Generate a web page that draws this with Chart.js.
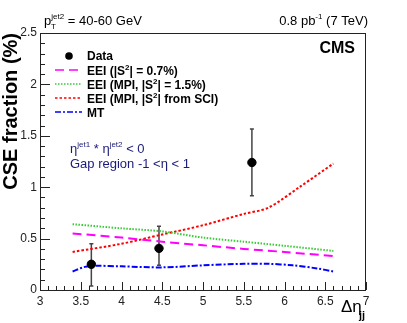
<!DOCTYPE html>
<html><head><meta charset="utf-8">
<script src="https://cdn.jsdelivr.net/npm/chart.js@4.4.0/dist/chart.umd.min.js"></script>
<style>html,body{margin:0;padding:0;background:#fff}#wrap{width:407px;height:323px}</style>
</head><body><div id="wrap"><canvas id="c" width="407" height="323"></canvas></div>
<script>
// ---- data ----
const dataX = [3.63, 4.46, 5.60];
const dataY = [0.25, 0.405, 1.24];
const dataErrLow = [0.04, 0.24, 0.917];
const dataErrHigh = [0.45, 0.62, 1.566];

const eei07X = [3.4, 4.0, 4.5, 5.0, 5.5, 6.0, 6.6];
const eei07Y = [0.55, 0.51, 0.47, 0.435, 0.40, 0.37, 0.33];

const eei15X = [3.4, 4.0, 4.5, 5.0, 5.5, 6.0, 6.6];
const eei15Y = [0.64, 0.60, 0.57, 0.51, 0.47, 0.43, 0.38];

const eeiSciX = [3.4, 4.0, 4.5, 5.0, 5.5, 5.8, 6.2, 6.6];
const eeiSciY = [0.37, 0.45, 0.54, 0.63, 0.74, 0.80, 1.01, 1.23];

const mtX = [3.4, 3.55, 3.7, 4.0, 4.5, 5.0, 5.5, 5.8, 6.1, 6.4, 6.6];
const mtY = [0.18, 0.225, 0.235, 0.23, 0.22, 0.24, 0.255, 0.255, 0.24, 0.21, 0.18];

const xTickLabels = ['3','3.5','4','4.5','5','5.5','6','6.5','7'];
const yTickLabels = ['0','0.5','1','1.5','2','2.5'];

const legendLabels = ['Data', 'EEI (|S', 'EEI (MPI, |S', 'EEI (MPI, |S', 'MT'];

const FONT = '"Liberation Sans", Arial, Helvetica, sans-serif';
const pts = (xs, ys) => xs.map((x, i) => ({x: x, y: ys[i]}));

const styles = {
  eei07: {color: '#ff00ff', dash: [9, 5], width: 2},
  eei15: {color: '#33cc33', dash: [1.5, 1.5], width: 2},
  sci: {color: '#ff0000', dash: [2.5, 2], width: 2},
  mt: {color: '#0000ff', dash: [6, 2, 2, 2], width: 2}
};

function sup(ctx, base, supText, x, y, size, bold) {
  ctx.font = (bold ? 'bold ' : '') + size + 'px ' + FONT;
  ctx.fillText(base, x, y);
  let w = ctx.measureText(base).width;
  ctx.font = (bold ? 'bold ' : '') + Math.round(size * 0.65) + 'px ' + FONT;
  ctx.fillText(supText, x + w, y - size * 0.45);
  return x + w + ctx.measureText(supText).width;
}

const decor = {
  id: 'decor',
  beforeDatasetsDraw(chart) {
    const ctx = chart.ctx, xs = chart.scales.x, ys = chart.scales.y;
    ctx.save();
    ctx.strokeStyle = '#444';
    ctx.lineWidth = 1.5;
    for (let i = 0; i < dataX.length; i++) {
      const px = xs.getPixelForValue(dataX[i]);
      const p1 = ys.getPixelForValue(dataErrLow[i]);
      const p2 = ys.getPixelForValue(dataErrHigh[i]);
      ctx.beginPath();
      ctx.moveTo(px, p1); ctx.lineTo(px, p2);
      ctx.moveTo(px - 2, p1); ctx.lineTo(px + 2, p1);
      ctx.moveTo(px - 2, p2); ctx.lineTo(px + 2, p2);
      ctx.stroke();
    }
    ctx.restore();
  },
  afterDraw(chart) {
    const ctx = chart.ctx, xs = chart.scales.x, ys = chart.scales.y;
    const a = chart.chartArea;
    ctx.save();
    // frame
    ctx.strokeStyle = '#222';
    ctx.lineWidth = 1;
    ctx.strokeRect(Math.round(a.left) + 0.5, Math.round(a.top) + 0.5, Math.round(a.right - a.left) - 1, Math.round(a.bottom - a.top));
    // ticks inside
    ctx.beginPath();
    for (let k = 0; k <= 25; k++) {
      const v = k / 10;
      const py = Math.round(ys.getPixelForValue(v)) + 0.5;
      const len = (k % 5 === 0) ? 10 : 5;
      ctx.moveTo(a.left, py); ctx.lineTo(a.left + len, py);
    }
    for (let k = 0; k <= 40; k++) {
      const v = 3 + k / 10;
      const px = Math.round(xs.getPixelForValue(v)) + 0.5;
      const len = (k % 5 === 0) ? 8 : 4;
      ctx.moveTo(px, a.bottom); ctx.lineTo(px, a.bottom - len);
    }
    ctx.stroke();

    // top texts
    ctx.fillStyle = '#000';
    ctx.textBaseline = 'alphabetic';
    ctx.textAlign = 'left';
    let x = sup(ctx, 'p', 'jet2', 44, 25, 13, false);
    ctx.font = '8px ' + FONT;
    ctx.fillText('T', 51, 29);
    ctx.font = '13px ' + FONT;
    ctx.fillText(' = 40-60 GeV', x, 25);

    ctx.font = '13px ' + FONT;
    const t1 = '0.8 pb', t2 = '-1', t3 = ' (7 TeV)';
    const w1 = ctx.measureText(t1).width, w3 = ctx.measureText(t3).width;
    ctx.font = '8px ' + FONT;
    const w2 = ctx.measureText(t2).width;
    let sx = 368 - w1 - w2 - w3;
    ctx.font = '13px ' + FONT;
    ctx.fillText(t1, sx, 25);
    ctx.font = '8px ' + FONT;
    ctx.fillText(t2, sx + w1, 19);
    ctx.font = '13px ' + FONT;
    ctx.fillText(t3, sx + w1 + w2, 25);

    // CMS
    ctx.font = 'bold 16px ' + FONT;
    ctx.textAlign = 'right';
    ctx.fillText('CMS', 355, 53);
    ctx.textAlign = 'left';

    // y title
    ctx.save();
    ctx.translate(17, 33);
    ctx.rotate(-Math.PI / 2);
    ctx.font = 'bold 20px ' + FONT;
    ctx.textAlign = 'right';
    ctx.fillText('CSE fraction (%)', 0, 0);
    ctx.restore();

    // x title
    ctx.font = '17px ' + FONT;
    ctx.fillText('\u0394\u03b7', 341, 312);
    ctx.font = 'bold 11px ' + FONT;
    ctx.fillText('jj', 359, 319);

    // legend
    const lx1 = 55, lx2 = 82, tx = 87;
    const rows = [56, 70, 84, 98, 112];
    ctx.fillStyle = '#000';
    ctx.beginPath(); ctx.arc(69, rows[0], 3.8, 0, Math.PI * 2); ctx.fill();
    ctx.textBaseline = 'middle';
    ctx.font = 'bold 12px ' + FONT;
    ctx.fillText(legendLabels[0], tx, rows[0] + 1);
    const st = [styles.eei07, styles.eei15, styles.sci, styles.mt];
    for (let i = 0; i < 4; i++) {
      const s = st[i];
      ctx.strokeStyle = s.color; ctx.lineWidth = 1.5; ctx.setLineDash(s.dash);
      ctx.beginPath(); ctx.moveTo(lx1, rows[i + 1]); ctx.lineTo(lx2, rows[i + 1]); ctx.stroke();
    }
    ctx.setLineDash([]);
    ctx.textBaseline = 'alphabetic';
    const by = r => r + 5;
    let xx = sup(ctx, legendLabels[1], '2', tx, by(rows[1]), 12, true);
    ctx.font = 'bold 12px ' + FONT; ctx.fillText('| = 0.7%)', xx, by(rows[1]));
    xx = sup(ctx, legendLabels[2], '2', tx, by(rows[2]), 12, true);
    ctx.font = 'bold 12px ' + FONT; ctx.fillText('| = 1.5%)', xx, by(rows[2]));
    xx = sup(ctx, legendLabels[3], '2', tx, by(rows[3]), 12, true);
    ctx.font = 'bold 12px ' + FONT; ctx.fillText('| from SCI)', xx, by(rows[3]));
    ctx.font = 'bold 12px ' + FONT; ctx.fillText(legendLabels[4], tx, by(rows[4]));

    // region text
    ctx.fillStyle = '#1a1a7a';
    xx = sup(ctx, '\u03b7', 'jet1', 70, 153, 13, false);
    ctx.font = '13px ' + FONT; ctx.fillText(' * ', xx, 153);
    xx += ctx.measureText(' * ').width;
    xx = sup(ctx, '\u03b7', 'jet2', xx, 153, 13, false);
    ctx.font = '13px ' + FONT; ctx.fillText(' < 0', xx, 153);
    ctx.fillText('Gap region -1 <\u03b7 < 1', 70, 168);
    ctx.restore();
  }
};

const lineDs = (label, xs, ys, s) => ({
  label: label, type: 'scatter', data: pts(xs, ys), showLine: true,
  borderColor: s.color, borderDash: s.dash, borderWidth: s.width,
  pointRadius: 0, fill: false, tension: 0.3, order: 2
});

new Chart(document.getElementById('c'), {
  type: 'scatter',
  data: {
    datasets: [
      {label: 'Data', data: pts(dataX, dataY), pointRadius: 4.2, pointBackgroundColor: '#000', pointBorderColor: '#000', showLine: false, order: 1},
      lineDs('EEI 0.7', eei07X, eei07Y, styles.eei07),
      lineDs('EEI 1.5', eei15X, eei15Y, styles.eei15),
      lineDs('EEI SCI', eeiSciX, eeiSciY, styles.sci),
      lineDs('MT', mtX, mtY, styles.mt)
    ]
  },
  options: {
    responsive: false, animation: false, devicePixelRatio: 1,
    layout: {padding: {left: 0, top: 33, right: 41, bottom: 0}},
    plugins: {legend: {display: false}, tooltip: {enabled: false}},
    scales: {
      x: {
        type: 'linear', min: 3, max: 7,
        grid: {display: false, drawTicks: false}, border: {display: false},
        afterFit(s) { s.height = 33; },
        afterBuildTicks(s) { s.ticks = xTickLabels.map(t => ({value: parseFloat(t)})); },
        ticks: {autoSkip: false, maxRotation: 0, padding: 4, color: '#222',
          font: {family: FONT, size: 12},
          callback: (v, i) => xTickLabels[i]}
      },
      y: {
        type: 'linear', min: 0, max: 2.5,
        grid: {display: false, drawTicks: false}, border: {display: false},
        afterFit(s) { s.width = 40; },
        afterBuildTicks(s) { s.ticks = yTickLabels.map(t => ({value: parseFloat(t)})); },
        ticks: {padding: 3, color: '#222', font: {family: FONT, size: 12},
          callback: (v, i) => yTickLabels[i]}
      }
    }
  },
  plugins: [decor]
});
</script></body></html>
